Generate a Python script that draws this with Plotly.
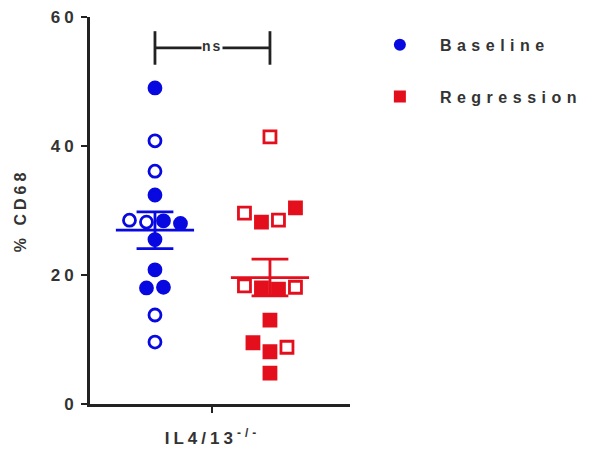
import numpy as np
import plotly.graph_objects as go

# ---- data ----
groups = ["Baseline", "Regression"]
baseline_vals = [49.0, 40.8, 36.1, 32.4, 28.5, 28.2, 28.4, 28.0, 25.5, 20.8, 18.0, 18.1, 13.8, 9.6]
baseline_filled = [1, 0, 0, 1, 0, 0, 1, 1, 1, 1, 1, 1, 0, 0]
regression_vals = [41.4, 29.6, 28.2, 28.5, 30.4, 18.3, 18.0, 17.8, 18.1, 13.0, 9.5, 8.1, 8.8, 4.8]
regression_filled = [0, 0, 1, 0, 1, 0, 1, 1, 0, 1, 1, 1, 0, 1]
colors = ["#0808e0", "#e40f1c"]
symbols = ["circle", "square"]
y_ticks = [0, 20, 40, 60]
x_label = "IL4/13<sup>-/-</sup>"
y_title = "% CD68"
sig_label = "ns"

# ---- layout geometry (page has an 8px body margin, compensate) ----
W, H = 590, 445
ml, mr, mt, mb = 82, 248, 9, 49
plot_w = W - ml - mr
plot_h = H - mt - mb
x_range = [-0.565, 1.696]
y_range = [0, 60]
px_per_x = plot_w / (x_range[1] - x_range[0])
px_per_y = plot_h / (y_range[1] - y_range[0])
marker_px = 12
row_thr = 2.5      # values closer than this (from the row's top value) share a row
step_px = 17.0     # horizontal spacing inside a row


def swarm(values):
    """Row-based beeswarm: near-equal values are spread symmetrically around the group centre."""
    order = sorted(range(len(values)), key=lambda i: -values[i])
    rows, cur = [], []
    for i in order:
        if cur and values[cur[0]] - values[i] > row_thr:
            rows.append(cur)
            cur = []
        cur.append(i)
    if cur:
        rows.append(cur)
    offsets = [0.0] * len(values)
    for r in rows:
        r = sorted(r)  # list order = left-to-right order
        n = len(r)
        for k, i in enumerate(r):
            offsets[i] = (k - (n - 1) / 2) * step_px / px_per_x
    return offsets


def span(text, sp):
    return f'<span style="letter-spacing:{sp}px">{text}</span>'


fig = go.Figure()
data = [(baseline_vals, baseline_filled), (regression_vals, regression_filled)]
for gi, (vals, filled) in enumerate(data):
    offs = swarm(vals)
    xs = [gi + o for o in offs]
    col = colors[gi]
    fills = [col if f else "white" for f in filled]
    fig.add_trace(go.Scatter(
        x=xs, y=vals, mode="markers", showlegend=False, cliponaxis=False,
        marker=dict(symbol=symbols[gi], size=marker_px, color=fills,
                    line=dict(color=col, width=2.8)),
        hoverinfo="skip"))
    arr = np.array(vals)
    mean = arr.mean()
    sem = arr.std(ddof=1) / np.sqrt(len(arr))
    mw, cw = 0.34, 0.16
    lx = [gi - mw, gi + mw, None, gi - cw, gi + cw, None, gi - cw, gi + cw, None, gi, gi]
    ly = [mean, mean, None, mean + sem, mean + sem, None, mean - sem, mean - sem, None, mean - sem, mean + sem]
    fig.add_trace(go.Scatter(x=lx, y=ly, mode="lines", showlegend=False,
                             line=dict(color=col, width=2.8), hoverinfo="skip"))

# legend entries
for gi, g in enumerate(groups):
    fig.add_trace(go.Scatter(x=[None], y=[None], mode="markers", name=span(g, 5.5),
                             legendgroup=g,
                             marker=dict(symbol=symbols[gi], size=12, color=colors[gi])))

# significance bracket
b_y = 55.2
b_h = 2.6
fig.add_shape(type="line", x0=0, x1=1, y0=b_y, y1=b_y, line=dict(color="#222", width=2.8))
fig.add_shape(type="line", x0=0, x1=0, y0=b_y - b_h, y1=b_y + b_h, line=dict(color="#222", width=2.8))
fig.add_shape(type="line", x0=1, x1=1, y0=b_y - b_h, y1=b_y + b_h, line=dict(color="#222", width=2.8))
fig.add_annotation(x=0.5, y=b_y, text=span(sig_label, 2), showarrow=False, yanchor="bottom",
                   yshift=-7, bgcolor="white", borderpad=0,
                   font=dict(size=14, color="#333", family="Liberation Sans", weight="bold"))

tick_font = dict(family="Liberation Sans", size=17, color="#333", weight="bold")
title_font = dict(family="Liberation Sans", size=16, color="#333", weight="bold")
fig.update_layout(
    width=W, height=H,
    margin=dict(l=ml, r=mr, t=mt, b=mb, pad=0, autoexpand=False),
    paper_bgcolor="white", plot_bgcolor="white",
    showlegend=True,
    legend=dict(x=1.038, y=0.972, xanchor="left", yanchor="top",
                font=dict(family="Liberation Sans", size=16, color="#333", weight="bold"),
                tracegroupgap=28, itemwidth=70, bgcolor="rgba(0,0,0,0)"),
    xaxis=dict(range=x_range, showgrid=False, zeroline=False, automargin=False,
               showline=True, linecolor="#222", linewidth=2.8,
               tickmode="array", tickvals=[0.5], ticktext=[span(x_label, 4)],
               ticks="outside", ticklen=6, tickwidth=2, tickcolor="#222",
               ticklabelstandoff=11,
               tickfont=dict(family="Liberation Sans", size=17, color="#333", weight="bold")),
    yaxis=dict(range=y_range, showgrid=False, zeroline=False, automargin=False,
               showline=True, linecolor="#222", linewidth=2.8,
               tickmode="array", tickvals=y_ticks,
               ticktext=[span(str(t), 4) for t in y_ticks],
               ticks="outside", ticklen=6, tickwidth=2, tickcolor="#222",
               ticklabeloverflow="allow",
               tickfont=tick_font,
               title=dict(text=span(y_title, 4), font=title_font, standoff=21)),
)

fig.write_html("out.html")
